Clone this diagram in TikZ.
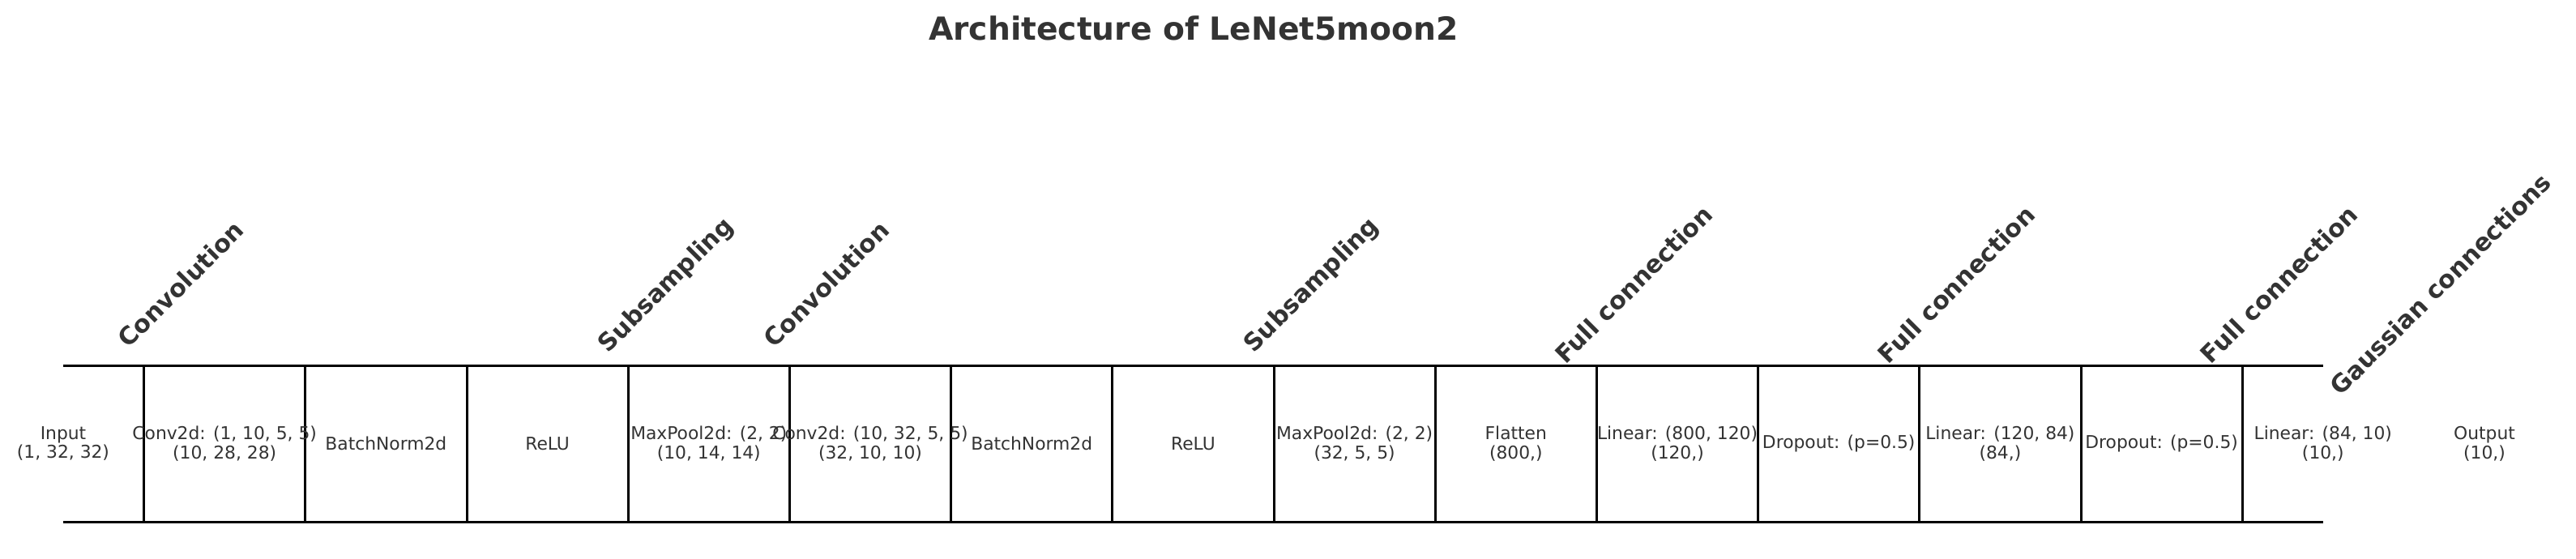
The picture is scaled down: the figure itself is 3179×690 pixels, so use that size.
\documentclass[tikz,border=0pt]{standalone}
\usepackage{fontspec}
\setmainfont{DejaVu Sans}
\definecolor{txt}{HTML}{333333}
\begin{document}
\begin{tikzpicture}[x=0.5pt,y=-0.5pt,
  layer/.style={font=\fontsize{10.9}{11.85}\selectfont, text=txt, align=center, inner sep=0pt},
  phase/.style={font=\fontsize{15.1}{16}\selectfont\bfseries, text=txt, rotate=45, inner sep=0pt, text height=0.76em, text depth=0.24em},
  heading/.style={font=\fontsize{19.6}{22}\selectfont\bfseries, text=txt, inner sep=0pt, anchor=base},
  frame/.style={line width=1.5pt, draw=black}]
\useasboundingbox (0,0) rectangle (3179,690);

\node[heading] (title) at (1473,50) {Architecture of LeNet5moon2};

% frame of the layer strip
\coordinate (tl) at (78,451);
\coordinate (tr) at (2867,451);
\coordinate (bl) at (78,644);
\coordinate (br) at (2867,644);
\draw[frame] (tl) -- (tr);
\draw[frame] (bl) -- (br);
\foreach \k in {0,...,13}{
  \coordinate (vt\k) at ({177.6+199.2*\k},451);
  \coordinate (vb\k) at ({177.6+199.2*\k},644);
  \draw[frame] (vt\k) -- (vb\k);
}

% layer labels
\node[layer] (L0)  at (78,547.5)     {Input\\(1, 32, 32)};
\node[layer] (L1)  at (277.2,547.5)  {Conv2d: (1, 10, 5, 5)\\(10, 28, 28)};
\node[layer] (L2)  at (476.4,547.5)  {BatchNorm2d};
\node[layer] (L3)  at (675.6,547.5)  {ReLU};
\node[layer] (L4)  at (874.8,547.5)  {MaxPool2d: (2, 2)\\(10, 14, 14)};
\node[layer] (L5)  at (1074,547.5)   {Conv2d: (10, 32, 5, 5)\\(32, 10, 10)};
\node[layer] (L6)  at (1273.2,547.5) {BatchNorm2d};
\node[layer] (L7)  at (1472.4,547.5) {ReLU};
\node[layer] (L8)  at (1671.6,547.5) {MaxPool2d: (2, 2)\\(32, 5, 5)};
\node[layer] (L9)  at (1870.8,547.5) {Flatten\\(800,)};
\node[layer] (L10) at (2070,547.5)   {Linear: (800, 120)\\(120,)};
\node[layer] (L11) at (2269.2,547.5) {Dropout: (p=0.5)};
\node[layer] (L12) at (2468.4,547.5) {Linear: (120, 84)\\(84,)};
\node[layer] (L13) at (2667.6,547.5) {Dropout: (p=0.5)};
\node[layer] (L14) at (2866.8,547.5) {Linear: (84, 10)\\(10,)};
\node[layer] (L15) at (3066,547.5)   {Output\\(10,)};

% phase labels
\node[phase] (P1)  at (227.2,355)  {Convolution};
\node[phase] (P4)  at (824.8,355)  {Subsampling};
\node[phase] (P5)  at (1024,355)   {Convolution};
\node[phase] (P8)  at (1621.6,355) {Subsampling};
\node[phase] (P10) at (2020,355)   {Full connection};
\node[phase] (P12) at (2418.4,355) {Full connection};
\node[phase] (P14) at (2816.8,355) {Full connection};
\node[phase] (P15) at (3016,355)   {Gaussian connections};
\end{tikzpicture}
\end{document}
